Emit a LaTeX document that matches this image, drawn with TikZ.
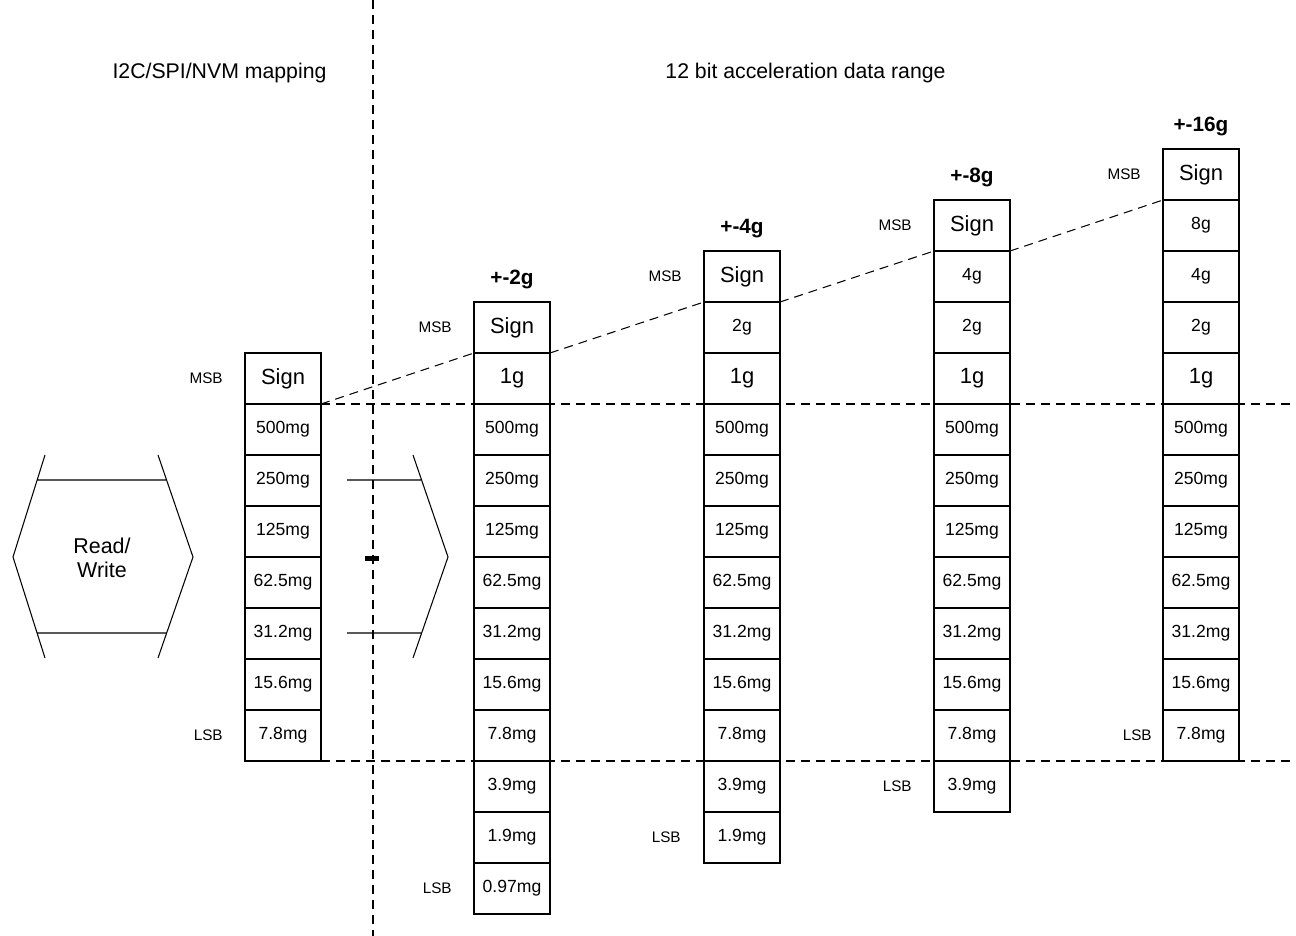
\documentclass[tikz,border=0pt]{standalone}
\usepackage{fontspec}
\setmainfont{Liberation Sans}
\usetikzlibrary{positioning}

\begin{document}
\begin{tikzpicture}[x=0.02cm,y=-0.02cm,
cell/.style={draw,line width=0.7pt,minimum width=1.52cm,minimum height=1.02cm,
  inner sep=0pt,outer sep=0pt,font=\fontsize{10}{12}\selectfont},
bigcell/.style={cell,font=\fontsize{12.5}{15}\selectfont},
bitlabel/.style={inner sep=0pt,font=\fontsize{8.7}{10}\selectfont},
rangelabel/.style={inner sep=0pt,font=\bfseries\fontsize{11.8}{14}\selectfont},
heading/.style={anchor=base,inner sep=0pt,font=\fontsize{12.1}{14}\selectfont},
guide/.style={line width=0.6pt,dash pattern=on 0.18cm off 0.12cm},
bus/.style={line width=0.6pt}]
\useasboundingbox (0,0) rectangle (1296,936);

\node[heading] (map) at (219.5,79) {I2C/SPI/NVM mapping};
\node[heading] (range) at (805.5,79) {12 bit acceleration data range};

% register columns: name/centre x/first row/last row/LSB gap
\foreach \col/\cx/\first/\last/\gap in {m/283/4/11/0.44,a/512/3/14/0.44,b/742/2/13/0.46,c/972/1/12/0.44,d/1201/0/11/0.22}{
  \node[bigcell] (\col\first) at (\cx,{174.5+51*\first}) {Sign};
  \foreach \sty/\val [count=\k] in {cell/8g,cell/4g,cell/2g,bigcell/1g,cell/500mg,cell/250mg,
      cell/125mg,cell/62.5mg,cell/31.2mg,cell/15.6mg,cell/7.8mg,cell/3.9mg,cell/1.9mg,cell/0.97mg}
    {\ifnum\k>\first\relax \ifnum\k>\last\relax\else
      \node[\sty] (\col\k) at (\cx,{174.5+51*\k}) {\val};
    \fi\fi}
  \node[bitlabel,left=0.44cm of \col\first] {MSB};
  \node[bitlabel,left=\gap cm of \col\last] {LSB};
}
\foreach \col/\first/\g in {a/3/2,b/2/4,c/1/8,d/0/16}
  \node[rangelabel,above=0.26cm of \col\first] (t\col) {+-\g g};

% dashed guides
\coordinate (edge) at (1296,0);
\coordinate (top) at (373,0);
\coordinate (bottom) at (373,936);
\draw[guide] (top) -- (bottom);
\foreach \p/\q in {m4/a3,a3/b2,b2/c1,c1/d0}
  \draw[guide] (\p.south east) -- (\q.south west);
\draw[guide] (m4.south east) -- (m4.south east -| edge);
\draw[guide] (m11.south east) -- (m11.south east -| edge);
\fill (365,556) rectangle (379,561);

% bus arrows
\node[align=center,inner sep=0pt,font=\fontsize{12.2}{14}\selectfont] (rw) at (102,558) {Read/\\Write};
\draw[bus] (45,455) -- (13,557) -- (45,658)
  (158,455) -- (193,557) -- (158,658)
  (37,480) -- (167,480) (37,633) -- (167,633);
\draw[bus] (347,480) -- (422,480) (347,633) -- (422,633)
  (413,455) -- (448,557) -- (413,658);
\end{tikzpicture}
\end{document}
